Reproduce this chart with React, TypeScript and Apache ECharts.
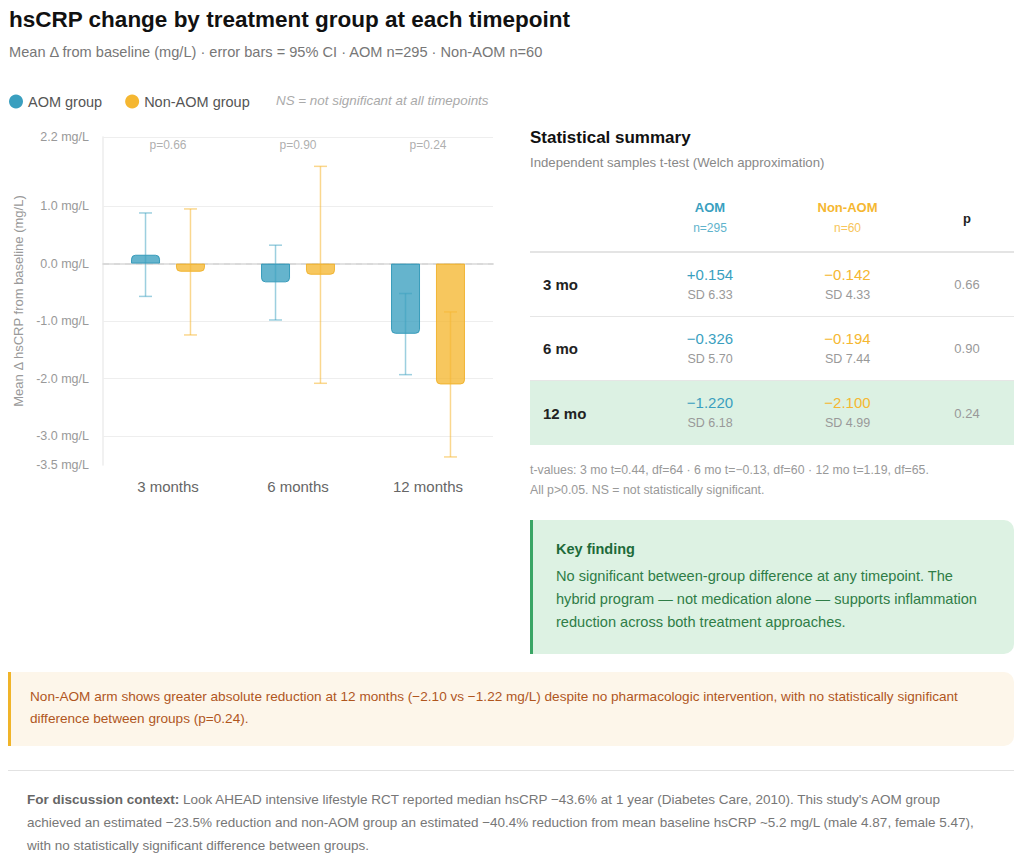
import React, { useEffect, useRef } from "react";
import * as echarts from "echarts";

// ---- chart data ----
const timepoints = ["3 months", "6 months", "12 months"];
const aomMean = [0.154, -0.326, -1.22];
const nonAomMean = [-0.142, -0.194, -2.1];
// 95% confidence interval bounds
const aomCiLow = [-0.57, -0.98, -1.93];
const aomCiHigh = [0.88, 0.32, -0.52];
const nonAomCiLow = [-1.24, -2.08, -3.36];
const nonAomCiHigh = [0.95, 1.69, -0.84];
const pValues = ["0.66", "0.90", "0.24"];
const yTicks = [2.2, 1.0, 0.0, -1.0, -2.0, -3.0, -3.5];
const Y_MIN = -3.5;
const Y_MAX = 2.2;

// ---- summary table data ----
const rowLabels = ["3 mo", "6 mo", "12 mo"];
const aomSd = ["6.33", "5.70", "6.18"];
const nonAomSd = ["4.33", "7.44", "4.99"];
const aomN = 295;
const nonAomN = 60;

const AOM = "#3a9fbf";
const NON_AOM = "#f5b731";
const FONT = "'Liberation Sans', Arial, Helvetica, sans-serif";

const BAR_WIDTH = 29;
const BAR_GAP = 0.55;
const CAP = 6.5;

const fmtMean = (v: number) => (v > 0 ? "+" : "\u2212") + Math.abs(v).toFixed(3);

function errorBars(name: string, low: number[], high: number[], color: string, offset: number) {
  return {
    type: "custom",
    name,
    z: 5,
    silent: true,
    data: timepoints.map((_, i) => [i, low[i], high[i]]),
    encode: { x: 0, y: [1, 2] },
    renderItem: (_params: any, api: any) => {
      const i = api.value(0);
      const lo = api.coord([i, api.value(1)]);
      const hi = api.coord([i, api.value(2)]);
      const x = lo[0] + offset;
      const style = { stroke: color, lineWidth: 1.5, fill: "none" };
      return {
        type: "group",
        children: [
          { type: "line", shape: { x1: x, y1: hi[1], x2: x, y2: lo[1] }, style },
          { type: "line", shape: { x1: x - CAP, y1: hi[1], x2: x + CAP, y2: hi[1] }, style },
          { type: "line", shape: { x1: x - CAP, y1: lo[1], x2: x + CAP, y2: lo[1] }, style },
        ],
      };
    },
  };
}

function barData(values: number[]) {
  return values.map((v) => ({
    value: v,
    itemStyle: { borderRadius: v >= 0 ? [4, 4, 0, 0] : [0, 0, 4, 4] },
  }));
}

function Chart() {
  const ref = useRef<HTMLDivElement>(null);
  useEffect(() => {
    if (!ref.current) return;
    const chart = echarts.init(ref.current, undefined, { renderer: "svg" });
    const half = (BAR_WIDTH + BAR_WIDTH * BAR_GAP) / 2;
    const gridLines = yTicks
      .filter((v) => v !== 0 && v !== Y_MIN)
      .map((v) => ({ yAxis: v, lineStyle: { color: "#eeeeee", width: 1, type: "solid" } }));
    chart.setOption({
      animation: false,
      textStyle: { fontFamily: FONT },
      legend: {
        left: 4,
        top: 1,
        icon: "circle",
        itemWidth: 14,
        itemHeight: 14,
        itemGap: 23,
        textStyle: { fontSize: 14.5, color: "#555", fontFamily: FONT },
        data: [
          { name: "AOM group", itemStyle: { color: AOM, opacity: 1, borderWidth: 0 } },
          { name: "Non-AOM group", itemStyle: { color: NON_AOM, opacity: 1, borderWidth: 0 } },
        ],
      },
      graphic: [
        {
          type: "text",
          left: 276,
          top: 6,
          style: {
            text: "NS = not significant at all timepoints",
            font: `italic 13.4px ${FONT}`,
            fill: "#aaaaaa",
          },
        },
      ],
      grid: { left: 103, right: 17, top: 49, bottom: 40 },
      xAxis: {
        type: "category",
        data: timepoints,
        axisLine: { show: true, lineStyle: { color: "#e2e2e2", width: 2 } },
        axisTick: { show: false },
        axisLabel: { fontSize: 15, color: "#666", margin: 14, fontFamily: FONT },
      },
      yAxis: {
        type: "value",
        min: Y_MIN,
        max: Y_MAX,
        name: "Mean \u0394 hsCRP from baseline (mg/L)",
        nameLocation: "middle",
        nameRotate: 90,
        nameGap: 77,
        nameTextStyle: { fontSize: 13, color: "#999", fontFamily: FONT },
        axisLine: { show: true, lineStyle: { color: "#ececec", width: 1.5 } },
        axisTick: { show: false },
        splitLine: { show: false },
        axisLabel: {
          customValues: yTicks,
          fontSize: 12.5,
          color: "#999",
          margin: 14,
          fontFamily: FONT,
          formatter: (v: number) =>
            yTicks.some((t) => Math.abs(t - v) < 1e-6) ? `${v.toFixed(1)} mg/L` : "",
        },
      },
      series: [
        {
          type: "bar",
          name: "AOM group",
          data: barData(aomMean),
          barWidth: BAR_WIDTH,
          barGap: `${BAR_GAP * 100}%`,
          z: 3,
          itemStyle: { color: "rgba(58,159,191,0.78)", borderColor: "rgba(44,150,182,0.9)", borderWidth: 1 },
          markLine: {
            silent: true,
            symbol: "none",
            label: { show: false },
            z: 1,
            data: [
              ...gridLines,
              { yAxis: 0, lineStyle: { color: "#d8d8d8", width: 1.5, type: [6, 5] } },
            ],
          },
        },
        {
          type: "bar",
          name: "Non-AOM group",
          data: barData(nonAomMean),
          barWidth: BAR_WIDTH,
          z: 3,
          itemStyle: { color: "rgba(245,183,49,0.78)", borderColor: "rgba(240,176,40,0.9)", borderWidth: 1 },
        },
        errorBars("AOM 95% CI", aomCiLow, aomCiHigh, "rgba(58,159,191,0.5)", -half),
        errorBars("Non-AOM 95% CI", nonAomCiLow, nonAomCiHigh, "rgba(245,183,49,0.55)", half),
        {
          type: "scatter",
          name: "p-values",
          symbolSize: 0,
          silent: true,
          data: timepoints.map((_, i) => [i, Y_MAX]),
          label: {
            show: true,
            position: "bottom",
            distance: 2,
            fontSize: 12,
            color: "#999",
            fontFamily: FONT,
            formatter: (p: any) => `p=${pValues[p.dataIndex]}`,
          },
        },
      ],
    });
    return () => chart.dispose();
  }, []);
  return (
    <div
      ref={ref}
      style={{ position: "absolute", left: 0, top: 88, width: 510, height: 417 }}
    />
  );
}

const abs = (left: number, top: number, extra: React.CSSProperties = {}): React.CSSProperties => ({
  position: "absolute",
  left,
  top,
  ...extra,
});

export default function App() {
  const colCell: React.CSSProperties = {
    display: "flex",
    flexDirection: "column",
    alignItems: "center",
    justifyContent: "center",
  };
  return (
    <div
      style={{
        position: "absolute",
        left: 0,
        top: 0,
        width: 1024,
        height: 867,
        overflow: "hidden",
        fontFamily: FONT,
        background: "#fff",
      }}
    >
      <div style={abs(9, 7, { fontSize: 22.5, fontWeight: 700, color: "#111", lineHeight: "26px" })}>
        hsCRP change by treatment group at each timepoint
      </div>
      <div style={abs(9, 43, { fontSize: 14.6, color: "#777", lineHeight: "18px" })}>
        Mean Δ from baseline (mg/L) · error bars = 95% CI · AOM n={aomN} · Non-AOM n={nonAomN}
      </div>

      <Chart />

      {/* statistical summary panel */}
      <div style={abs(530, 127, { fontSize: 17, fontWeight: 700, color: "#111", lineHeight: "22px" })}>
        Statistical summary
      </div>
      <div style={abs(530, 154, { fontSize: 13.2, color: "#888", lineHeight: "18px" })}>
        Independent samples t-test (Welch approximation)
      </div>

      <div style={abs(530, 185, { width: 484 })}>
        <div
          style={{
            display: "flex",
            height: 66,
            borderBottom: "2px solid #e4e4e4",
          }}
        >
          <div style={{ width: 115 }} />
          <div style={{ ...colCell, width: 130 }}>
            <div style={{ fontSize: 13, fontWeight: 700, color: AOM, lineHeight: "20px" }}>AOM</div>
            <div style={{ fontSize: 12, color: "#5fb3cc", lineHeight: "20px" }}>n={aomN}</div>
          </div>
          <div style={{ ...colCell, width: 145 }}>
            <div style={{ fontSize: 13, fontWeight: 700, color: NON_AOM, lineHeight: "20px" }}>Non-AOM</div>
            <div style={{ fontSize: 12, color: "#f7c55a", lineHeight: "20px" }}>n={nonAomN}</div>
          </div>
          <div style={{ ...colCell, width: 94 }}>
            <div style={{ fontSize: 13, fontWeight: 700, color: "#222" }}>p</div>
          </div>
        </div>
        {rowLabels.map((label, i) => {
          const last = i === rowLabels.length - 1;
          return (
            <div
              key={label}
              style={{
                display: "flex",
                height: 64,
                boxSizing: "border-box",
                borderBottom: last ? "none" : "1px solid #e6e6e6",
                background: last ? "#dcf1e3" : "transparent",
              }}
            >
              <div
                style={{
                  width: 115,
                  display: "flex",
                  alignItems: "center",
                  paddingLeft: 13,
                  boxSizing: "border-box",
                  fontSize: 15,
                  fontWeight: 700,
                  color: "#222",
                }}
              >
                {label}
              </div>
              <div style={{ ...colCell, width: 130 }}>
                <div style={{ fontSize: 15, color: AOM, lineHeight: "20px" }}>{fmtMean(aomMean[i])}</div>
                <div style={{ fontSize: 12.5, color: "#999", lineHeight: "20px" }}>SD {aomSd[i]}</div>
              </div>
              <div style={{ ...colCell, width: 145 }}>
                <div style={{ fontSize: 15, color: NON_AOM, lineHeight: "20px" }}>{fmtMean(nonAomMean[i])}</div>
                <div style={{ fontSize: 12.5, color: "#999", lineHeight: "20px" }}>SD {nonAomSd[i]}</div>
              </div>
              <div style={{ ...colCell, width: 94 }}>
                <div style={{ fontSize: 13, color: "#999" }}>{pValues[i]}</div>
              </div>
            </div>
          );
        })}
      </div>

      <div style={abs(530, 460, { fontSize: 12.3, color: "#999", lineHeight: "20px", width: 484 })}>
        t-values: 3 mo t=0.44, df=64 · 6 mo t=−0.13, df=60 · 12 mo t=1.19, df=65.
        <br />
        All p&gt;0.05. NS = not statistically significant.
      </div>

      {/* key finding callout */}
      <div
        style={abs(530, 520, {
          width: 484,
          height: 134,
          boxSizing: "border-box",
          background: "#ddf2e3",
          borderLeft: "3px solid #3aa565",
          borderRadius: "0 10px 10px 0",
          padding: "19px 24px 0 23px",
        })}
      >
        <div style={{ fontSize: 14.5, fontWeight: 700, color: "#1d6b3a", lineHeight: "20px" }}>Key finding</div>
        <div style={{ fontSize: 14.6, color: "#2f7d47", lineHeight: "23px", marginTop: 6 }}>
          No significant between-group difference at any timepoint. The hybrid program — not medication alone —
          supports inflammation reduction across both treatment approaches.
        </div>
      </div>

      {/* highlighted note */}
      <div
        style={abs(8, 672, {
          width: 1006,
          height: 74,
          boxSizing: "border-box",
          background: "#fdf6ea",
          borderLeft: "3px solid #f0b429",
          borderRadius: "0 10px 10px 0",
          padding: "14px 24px 0 19px",
          fontSize: 13.6,
          lineHeight: "22px",
          color: "#b0561e",
        })}
      >
        Non-AOM arm shows greater absolute reduction at 12 months (−2.10 vs −1.22 mg/L) despite no pharmacologic
        intervention, with no statistically significant difference between groups (p=0.24).
      </div>

      <div style={abs(8, 770, { width: 1006, height: 1, background: "#e2e2e2" })} />

      <div style={abs(27, 788, { width: 958, fontSize: 13.5, lineHeight: "23px", color: "#777" })}>
        <span style={{ fontWeight: 700, color: "#666" }}>For discussion context: </span>Look AHEAD intensive
        lifestyle RCT reported median hsCRP −43.6% at 1 year (Diabetes Care, 2010). This study's AOM group achieved
        an estimated −23.5% reduction and non-AOM group an estimated −40.4% reduction from mean baseline hsCRP ~5.2
        mg/L (male 4.87, female 5.47), with no statistically significant difference between groups.
      </div>
    </div>
  );
}
